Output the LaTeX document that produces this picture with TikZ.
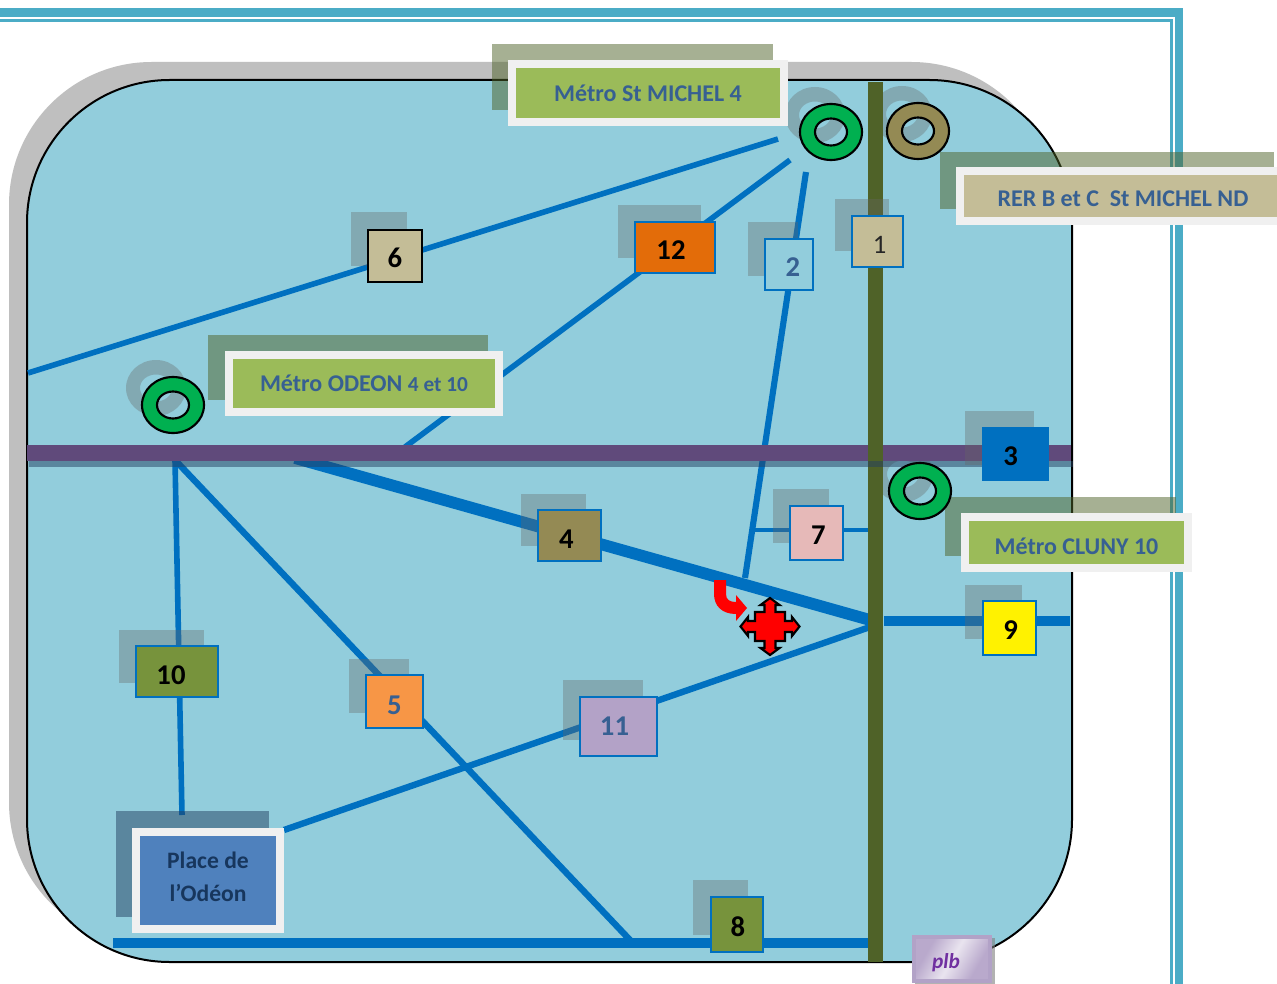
\documentclass[tikz,border=0pt]{standalone}
\usepackage{fontspec}
\setmainfont{Carlito}
\usetikzlibrary{calc}
\definecolor{frameC}{HTML}{4BACC6}
\definecolor{mainC}{HTML}{92CDDC}
\definecolor{lineC}{HTML}{0070C0}
\definecolor{darkG}{HTML}{4F6228}
\definecolor{purpC}{HTML}{604A7B}
\definecolor{txtB}{HTML}{376092}
\definecolor{greenL}{HTML}{9BBB59}
\definecolor{tanC}{HTML}{C4BD97}
\definecolor{oliveC}{HTML}{948A54}
\definecolor{grnC}{HTML}{77933C}
\definecolor{ringG}{HTML}{00B050}
\definecolor{plbD}{HTML}{B9A9CC}
\definecolor{plbL}{HTML}{E9E4EF}
\pgfdeclareverticalshading{plbsh}{100bp}{color(0bp)=(plbD);color(30bp)=(plbD);color(50bp)=(plbL);color(70bp)=(plbD);color(100bp)=(plbD)}
\newcommand\dxx[1]{\hspace*{#1pt}}
\tikzset{
  x=.75pt,y=-.75pt,
  sized/.style n args={2}{minimum width=#1*.75pt,minimum height=#2*.75pt,inner sep=0pt,align=center},
  sqbox/.style={draw=lineC,line width=1.3pt,text height=17.5pt,text depth=0pt,font=\fontsize{21.5}{24}\selectfont\bfseries},
  lblbox/.style={draw=white!94!black,line width=6pt,fill=greenL,text=txtB,font=\fontsize{18}{22}\selectfont\bfseries},
  lblshadow/.style={fill=darkG,opacity=.5},
  sqshadow/.style={fill=black!60,opacity=.35},
  conn/.style={draw=lineC,line width=4.2pt},
  ringshape/.style={draw=black,line width=1.6pt,even odd rule},
  ringshadow/.style={fill=black!60,opacity=.35,even odd rule},
}
\begin{document}
\begin{tikzpicture}
\useasboundingbox (0,0) rectangle (1277,984);
\fill[white] (0,0) rectangle (1277,984);
% frame
\draw[frameC,line width=6.2pt] (0,12.5) -- (1179,12.5) -- (1179,984);
\draw[frameC,line width=2.2pt] (0,20.5) -- (1171.5,20.5) -- (1171.5,984);
% body
\fill[black!25,rounded corners=107pt] (9,62) rectangle (1054,945);
\filldraw[fill=mainC,draw=black,line width=1.5pt,rounded corners=107pt] (27,80) rectangle (1072,962);
% anchors of the lines
\coordinate (w1) at (28,373);
\coordinate (e1) at (778,139);
\coordinate (e2) at (790,160);
\coordinate (s2) at (405,447);
\coordinate (n3) at (806,172);
\coordinate (s3) at (745,578);
\coordinate (hubW) at (175,460);
\coordinate (w4) at (295,458);
\coordinate (hubE) at (870,620);
\coordinate (hubF) at (870,627);
\coordinate (s10) at (182,815);
\coordinate (s5) at (630,940);
\coordinate (pl) at (284,830);
\coordinate (w8) at (113,943);
\coordinate (e8) at (868,943);
\coordinate (w9) at (884,621);
\coordinate (e9) at (1070,621);
\coordinate (w7) at (755,530);
\coordinate (e7) at (868,530);
% lines
\draw[conn] (w1) -- (e1);
\draw[conn] (e2) -- (s2);
\draw[conn,line width=4.6pt] (n3) -- (s3);
\draw[conn,line width=8.8pt] (w4) -- (hubE);
\draw[conn] (hubW) -- (s10);
\draw[conn,line width=4.8pt] (hubW) -- (s5);
\draw[conn,line width=4.8pt] (pl) -- (hubF);
\draw[conn,line width=8.2pt] (w8) -- (e8);
\draw[conn,line width=8pt] (w9) -- (e9);
\draw[conn,line width=3pt] (w7) -- (e7);
% ring shadows
\fill[ringshadow] (815,115) ellipse [x radius=30,y radius=28] (815,115) ellipse [x radius=16,y radius=13.5];
\fill[ringshadow] (902,114) ellipse [x radius=30,y radius=28] (902,114) ellipse [x radius=16,y radius=13.5];
\fill[ringshadow] (156,388) ellipse [x radius=30,y radius=28] (156,388) ellipse [x radius=16,y radius=13.5];
\fill[ringshadow] (903,474) ellipse [x radius=30,y radius=28] (903,474) ellipse [x radius=16,y radius=13.5];
% transit bars
\fill[purpC] (27,445) rectangle (1071,461);
\fill[darkG] (868,82) rectangle (883,962);
\fill[fill={rgb,255:red,36;green,64;blue,97},opacity=.5] (29,461) rectangle (1073,467);
% shadows
\fill[lblshadow] (492,44) rectangle (773,110);
\fill[lblshadow] (940,152) rectangle (1274,209);
\fill[lblshadow] (208,335) rectangle (488,400);
\fill[lblshadow] (945,497) rectangle (1176,556);
\fill[fill={rgb,255:red,36;green,64;blue,97},opacity=.5] (116,811) rectangle (269,917);
\fill[sqshadow] (835,199) rectangle +(54,52);
\fill[sqshadow] (748,222) rectangle +(50,54);
\fill[sqshadow] (965,411) rectangle +(69,54);
\fill[sqshadow] (521,494) rectangle +(65,52);
\fill[sqshadow] (349,659) rectangle +(60,54);
\fill[sqshadow] (351,212) rectangle +(56,54);
\fill[sqshadow] (773,489) rectangle +(56,54);
\fill[sqshadow] (693,880) rectangle +(55,55);
\fill[sqshadow] (965,585) rectangle +(57,54);
\fill[sqshadow] (119,630) rectangle +(85,53);
\fill[sqshadow] (563,680) rectangle +(80,60);
\fill[sqshadow] (618,205) rectangle +(83,53);
% rings
\filldraw[ringshape,fill=ringG] (831,132) ellipse [x radius=31,y radius=28] (831,132) ellipse [x radius=16,y radius=13.5];
\filldraw[ringshape,fill=oliveC] (918,131) ellipse [x radius=31,y radius=28] (918,131) ellipse [x radius=16,y radius=13.5];
\filldraw[ringshape,fill=ringG] (173,405) ellipse [x radius=31,y radius=28] (173,405) ellipse [x radius=16,y radius=13.5];
\filldraw[ringshape,fill=ringG] (920,491) ellipse [x radius=31,y radius=28] (920,491) ellipse [x radius=16,y radius=13.5];
% labels
\node[lblbox,sized={272}{58}] (stm) at (648,93) {Métro St MICHEL 4};
\node[lblbox,sized={330}{50},fill=tanC,text height=15.4pt,text depth=0pt] (rer) at (1125,196.5) {\dxx{-3}RER B et C\ \ St MICHEL ND};
\node[lblbox,sized={270}{57}] (ode) at (364,383.5) {Métro ODEON {\fontsize{16}{20}\selectfont 4 et 10}};
\node[lblbox,sized={223}{51},text height=17.5pt,text depth=0pt] (clu) at (1076.5,542.5) {Métro CLUNY 10};
\node[lblbox,sized={144}{97},align=none,fill={rgb,255:red,79;green,129;blue,189},text={rgb,255:red,23;green,54;blue,93},font=\fontsize{17.7}{24.75}\selectfont\bfseries] (pla) at (208,880.5) {\begin{tabular}[c]{@{}c@{}}Place de\\l’Odéon\rule[-11.2pt]{0pt}{1pt}\end{tabular}};
% numbered stops
\node[sqbox,sized={51}{51},fill=tanC,font=\fontsize{20}{24}\selectfont,text=black!85] (n1) at (877.5,241.5) {\dxx{3}1};
\node[sqbox,sized={48}{51},fill=mainC,text=txtB] (n2) at (789,264.5) {\dxx{6}2};
\node[sqbox,sized={67}{54},fill=lineC,draw=none,text=black] (n3b) at (1015.5,454) {\dxx{-7.5}3};
\node[sqbox,sized={63}{51},fill=oliveC,text=black,text height=20pt] (n4) at (569.5,535.5) {\dxx{-4.5}4};
\node[sqbox,sized={57}{53},fill={rgb,255:red,247;green,150;blue,70},text=txtB,text height=20pt] (n5) at (394.5,701.5) {5};
\node[sqbox,sized={54}{52},fill=tanC,draw=black,text=black] (n6) at (395,256) {6};
\node[sqbox,sized={53}{54},fill={rgb,255:red,230;green,185;blue,184},text=black] (n7) at (816.5,533) {\dxx{3}7};
\node[sqbox,sized={52}{55},fill=grnC,text=black] (n8) at (737,924.5) {\dxx{1.5}8};
\node[sqbox,sized={53}{54},fill=yellow,text=black] (n9) at (1009.5,628) {\dxx{1.5}9};
\node[sqbox,sized={82}{51},fill=grnC,text=black,text height=20pt] (n10) at (177,671.5) {\dxx{-9}10};
\node[sqbox,sized={77}{59},fill={rgb,255:red,179;green,162;blue,199},text=txtB,text height=13pt] (n11) at (618.5,726.5) {\dxx{-6}11};
\node[sqbox,sized={80}{51},fill={rgb,255:red,227;green,108;blue,9},text=black] (n12) at (675,247.5) {\dxx{-6}12};
% red turn arrow
\fill[red] (714,580) -- (726,580) -- (726,594) .. controls (726,600) and (730,602) .. (736,602) -- (736,595) -- (747,608) -- (736,621) -- (736,614) .. controls (722,614) and (714,606) .. (714,594) -- cycle;
% red move cross
\filldraw[fill=red,draw=black,line width=1.6pt,line join=miter]
 (770,598) -- (779.5,605) -- (775.5,605) -- (775.5,612) -- (785,612) -- (785,621) -- (792,621) -- (792,617) -- (799.5,626.5) -- (792,636) -- (792,632) -- (785,632) -- (785,641) -- (775.5,641) -- (775.5,648) -- (779.5,648) -- (770,655) -- (760.5,648) -- (764.5,648) -- (764.5,641) -- (755,641) -- (755,632) -- (748,632) -- (748,636) -- (740.5,626.5) -- (748,617) -- (748,621) -- (755,621) -- (755,612) -- (764.5,612) -- (764.5,605) -- (760.5,605) -- cycle;
% signature
\fill[black!50,opacity=.6] (915,938) rectangle (995,986);
\node[sized={76}{44},draw={rgb,255:red,178;green,162;blue,199},line width=3pt,shading=plbsh,shading angle=60,text={rgb,255:red,112;green,48;blue,160},text height=14pt,text depth=0pt,font=\fontsize{16}{18}\selectfont\bfseries\itshape] (plb) at (952,959) {\dxx{-9}plb};
\end{tikzpicture}
\end{document}
